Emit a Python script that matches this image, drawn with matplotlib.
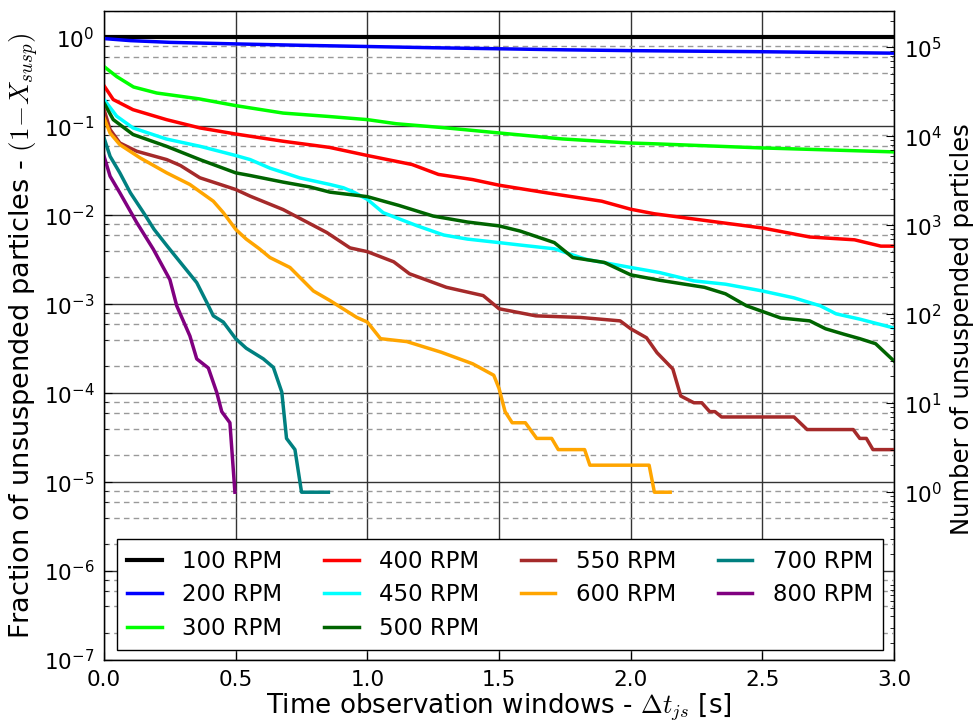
import matplotlib
matplotlib.use("Agg")
import matplotlib.pyplot as plt
from matplotlib.ticker import LogLocator, NullFormatter, FixedLocator

plt.rcParams['font.family'] = ['DejaVu Sans']
plt.rcParams['mathtext.fontset'] = 'cm'

N_TOTAL = 129500  # total number of particles (right axis scaling)

labels = ['100 RPM', '200 RPM', '300 RPM', '400 RPM', '450 RPM',
          '500 RPM', '550 RPM', '600 RPM', '700 RPM', '800 RPM']
colors = ['black', 'blue', 'lime', 'red', 'cyan',
          'darkgreen', 'brown', 'orange', 'teal', 'purple']

t100 = [0.0, 3.0]
f100 = [1.0, 1.0]

t200 = [0.0, 0.1, 0.25, 0.5, 0.75, 1.0, 1.25, 1.5, 1.75, 2.0, 2.5, 3.0]
f200 = [0.97, 0.92, 0.88, 0.845, 0.815, 0.79, 0.765, 0.745, 0.725, 0.71, 0.69, 0.665]

t300 = [0.0, 0.048, 0.112, 0.2, 0.36, 0.5, 0.68, 0.855, 1.0, 1.11, 1.30, 1.50,
        1.74, 1.99, 2.1, 2.49, 3.0]
f300 = [0.47, 0.363, 0.277, 0.237, 0.204, 0.171, 0.141, 0.129, 0.119, 0.107,
        0.096, 0.0843, 0.0722, 0.0651, 0.0635, 0.0573, 0.0516]

t400 = [0.0, 0.035, 0.11, 0.237, 0.364, 0.5, 0.68, 0.856, 1.0, 1.17, 1.27, 1.40,
        1.50, 1.68, 1.89, 2.0, 2.09, 2.34, 2.50, 2.68, 2.85, 2.95, 3.0]
f400 = [0.286, 0.2, 0.154, 0.119, 0.096, 0.082, 0.068, 0.058, 0.047, 0.0372,
        0.0288, 0.0252, 0.0218, 0.0179, 0.0144, 0.0117, 0.0104, 0.0083, 0.0072,
        0.0057, 0.0053, 0.0045, 0.0045]

t450 = [0.0, 0.048, 0.11, 0.237, 0.364, 0.5, 0.555, 0.63, 0.744, 0.858, 0.909,
        0.95, 1.0, 1.06, 1.19, 1.29, 1.38, 1.50, 1.58, 1.71, 1.83, 2.0, 2.11,
        2.24, 2.36, 2.50, 2.62, 2.72, 2.78, 2.87, 3.0]
f450 = [0.2, 0.13, 0.096, 0.072, 0.0597, 0.047, 0.0423, 0.0339, 0.0263, 0.0222,
        0.0204, 0.0181, 0.0151, 0.0107, 0.0076, 0.006, 0.0054, 0.00493, 0.00463,
        0.0042, 0.0032, 0.00259, 0.00227, 0.00183, 0.00168, 0.00141, 0.00118,
        0.00096, 0.00078, 0.00068, 0.00054]

t500 = [0.0, 0.035, 0.11, 0.237, 0.364, 0.5, 0.555, 0.68, 0.78, 0.858, 1.0, 1.12,
        1.25, 1.38, 1.50, 1.58, 1.71, 1.78, 1.90, 2.0, 2.11, 2.28, 2.36, 2.44,
        2.50, 2.57, 2.68, 2.74, 2.81, 2.87, 2.93, 3.0]
f500 = [0.183, 0.119, 0.081, 0.0597, 0.0423, 0.030, 0.028, 0.0236, 0.0209,
        0.0182, 0.0162, 0.0129, 0.0098, 0.0084, 0.0076, 0.00665, 0.00493, 0.00335,
        0.00295, 0.00214, 0.00186, 0.00155, 0.00131, 0.00096, 0.00083, 0.00070,
        0.00065, 0.00053, 0.00046, 0.00041, 0.00036, 0.00023]

t550 = [0.0, 0.023, 0.06, 0.124, 0.238, 0.29, 0.364, 0.5, 0.555, 0.68, 0.846,
        0.934, 1.0, 1.10, 1.16, 1.30, 1.44, 1.50, 1.64, 1.81, 1.96, 2.0, 2.06,
        2.10, 2.16, 2.19, 2.24, 2.27, 2.30, 2.32, 2.345, 2.62, 2.67, 2.845, 2.87,
        2.895, 2.92, 3.0]
f550 = [0.154, 0.092, 0.065, 0.0525, 0.0423, 0.0363, 0.0264, 0.0195, 0.0164,
        0.0116, 0.0064, 0.0043, 0.0039, 0.0030, 0.0022, 0.00155, 0.00125, 0.00089,
        0.00074, 0.00071, 0.00065, 0.00053, 0.00042, 0.000285, 0.000187, 9.3e-5,
        7.8e-5, 7.8e-5, 6.2e-5, 6.2e-5, 5.4e-5, 5.4e-5, 3.9e-5, 3.9e-5, 3.1e-5,
        3.1e-5, 2.32e-5, 2.32e-5]

t600 = [0.0, 0.023, 0.06, 0.137, 0.238, 0.326, 0.415, 0.453, 0.5, 0.54, 0.59,
        0.63, 0.706, 0.795, 0.858, 0.96, 1.0, 1.05, 1.15, 1.28, 1.40, 1.48, 1.50,
        1.523, 1.55, 1.60, 1.643, 1.70, 1.725, 1.825, 1.845, 2.07, 2.09, 2.15]
f600 = [0.124, 0.084, 0.0623, 0.0442, 0.030, 0.0222, 0.0144, 0.0107, 0.00695,
        0.0054, 0.0042, 0.00335, 0.00259, 0.00141, 0.0011, 0.00071, 0.00063,
        0.00041, 0.00038, 0.000289, 0.000214, 0.000159, 0.000113, 6.2e-5, 4.65e-5,
        4.65e-5, 3.1e-5, 3.1e-5, 2.32e-5, 2.32e-5, 1.55e-5, 1.55e-5, 7.7e-6, 7.7e-6]

t700 = [0.0, 0.023, 0.06, 0.1, 0.15, 0.19, 0.24, 0.29, 0.352, 0.39, 0.415, 0.453,
        0.5, 0.54, 0.605, 0.643, 0.675, 0.693, 0.725, 0.75, 0.852]
f700 = [0.074, 0.046, 0.030, 0.0179, 0.0107, 0.00695, 0.0045, 0.00295, 0.00175,
        0.00105, 0.00074, 0.00063, 0.00041, 0.00032, 0.000243, 0.000195, 0.000103,
        3.1e-5, 2.32e-5, 7.7e-6, 7.7e-6]

t800 = [0.0, 0.023, 0.06, 0.124, 0.187, 0.25, 0.276, 0.326, 0.352, 0.396, 0.428,
        0.447, 0.478, 0.497]
f800 = [0.046, 0.0275, 0.0179, 0.0083, 0.00416, 0.00189, 0.00096, 0.00044,
        0.000243, 0.000192, 0.000102, 6.2e-5, 4.65e-5, 7.7e-6]

series_t = [t100, t200, t300, t400, t450, t500, t550, t600, t700, t800]
series_f = [f100, f200, f300, f400, f450, f500, f550, f600, f700, f800]

fig = plt.figure(figsize=(9.76, 7.28), dpi=100)
ax = fig.add_axes([0.1066, 0.0934, 0.8094, 0.892])

for i, (t, f) in enumerate(zip(series_t, series_f)):
    lw = 3.0 if i == 0 else 2.5
    ax.plot(t, f, color=colors[i], lw=lw, label=labels[i], zorder=3,
            solid_joinstyle='round')

ax.set_yscale('log')
ax.set_xlim(0, 3.0)
ax.set_ylim(1e-7, 2.0)
ax.set_xticks([0.0, 0.5, 1.0, 1.5, 2.0, 2.5, 3.0])
ax.set_xticklabels(['0.0', '0.5', '1.0', '1.5', '2.0', '2.5', '3.0'])
ax.yaxis.set_major_locator(LogLocator(base=10, numticks=20))
ax.yaxis.set_minor_locator(LogLocator(base=10, subs=(2, 4, 6, 8), numticks=20))
ax.yaxis.set_minor_formatter(NullFormatter())
ax.set_axisbelow(False)
ax.grid(True, which='major', axis='both', color='0.2', lw=1.0, ls='-', zorder=2)
ax.grid(True, which='minor', axis='y', color='0.6', lw=1.0, ls=(0, (4, 3)), zorder=2)
ax.tick_params(which='both', direction='in', labelsize=15.5, pad=7)
ax.tick_params(which='major', length=6)
ax.tick_params(which='minor', length=3)

ax.set_xlabel(r'Time observation windows - $\Delta t_{js}$ [s]', fontsize=18.8, labelpad=1)
ax.set_ylabel(r'Fraction of unsuspended particles - $(1\!-\!X_{susp})$', fontsize=19.5, labelpad=2)

for s in ax.spines.values():
    s.set_color('black')
    s.set_linewidth(1.0)

ax2 = ax.twinx()
ax2.set_yscale('log')
ax2.set_ylim(1e-7 * N_TOTAL, 2.0 * N_TOTAL)
ax2.yaxis.set_major_locator(FixedLocator([1, 10, 100, 1e3, 1e4, 1e5]))
ax2.yaxis.set_minor_locator(LogLocator(base=10, subs=tuple(range(2, 10)), numticks=20))
ax2.yaxis.set_minor_formatter(NullFormatter())
ax2.tick_params(which='both', direction='in', labelsize=15.5, pad=7)
ax2.tick_params(which='major', length=6)
ax2.tick_params(which='minor', length=3)
ax2.set_ylabel('Number of unsuspended particles', fontsize=17.5, labelpad=4)
ax2.yaxis.set_label_coords(1.071, 0.51)

leg = ax.legend(loc='lower left', bbox_to_anchor=(0.0165, 0.0154, 0.97, 0.2),
                mode='expand', ncol=4, fontsize=16.5, handlelength=1.5,
                handletextpad=0.9, columnspacing=1.8, labelspacing=0.46,
                fancybox=False, framealpha=1.0, borderaxespad=0.0,
                borderpad=0.45)
leg.get_frame().set_edgecolor('black')
leg.get_frame().set_linewidth(1.0)
leg.set_zorder(10)

fig.savefig('out.png', dpi=100)
